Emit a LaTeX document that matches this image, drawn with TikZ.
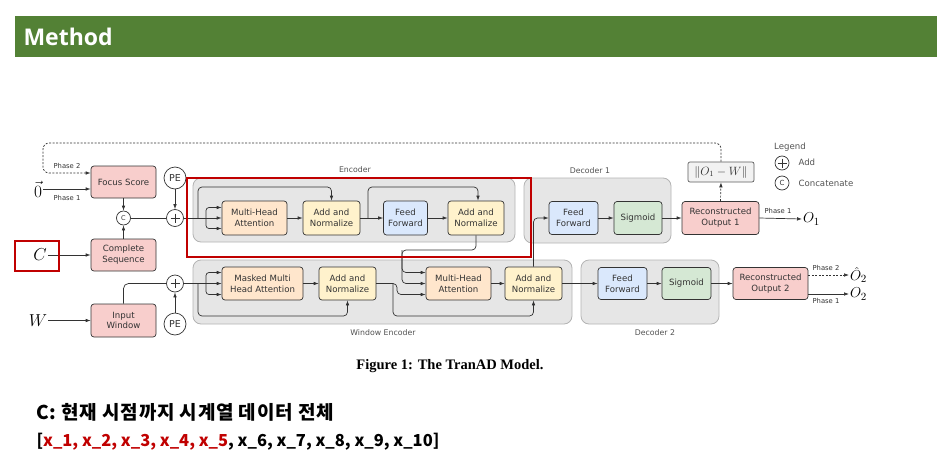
\documentclass[tikz,border=0pt]{standalone}
\usepackage{fontspec}
\usetikzlibrary{arrows.meta,calc}
\newfontfamily\djv{DejaVu Sans}
\newfontfamily\hdrf{Open Sans}
\newfontfamily\kr{Noto Sans CJK KR}
\newfontfamily\krs{Noto Sans CJK KR}[LetterSpace=4]
\newfontfamily\capf{Liberation Serif}
\definecolor{hdrgreen}{HTML}{538135}
\definecolor{hl}{HTML}{C00000}
\definecolor{grayfill}{HTML}{E6E6E6}
\definecolor{grayline}{HTML}{B3B3B3}
\definecolor{peach}{HTML}{FFE6CC}
\definecolor{cream}{HTML}{FFF2CC}
\definecolor{lblue}{HTML}{DAE8FC}
\definecolor{lgreen}{HTML}{D5E8D4}
\definecolor{lpink}{HTML}{F8CECC}
\definecolor{ink}{HTML}{333333}
\tikzset{
  blk/.style={draw=ink, line width=0.7pt, rounded corners=3pt, align=center,
    font=\djv\fontsize{8.6}{10.8}\selectfont, inner sep=1pt, text=ink},
  grp/.style={draw=grayline, fill=grayfill, line width=0.8pt, rounded corners=8pt},
  arr/.style={-{Latex[length=5pt,width=3.6pt]}, line width=0.7pt, draw=ink},
  ln/.style={line width=0.7pt, draw=ink},
  circ/.style={circle, draw=ink, fill=white, line width=0.7pt, inner sep=0pt},
  plusc/.style={circ, path picture={
      \draw[ink, line width=0.7pt] ($(path picture bounding box.center)+(-4.5,0)$) -- ++(9,0);
      \draw[ink, line width=0.7pt] ($(path picture bounding box.center)+(0,-4.5)$) -- ++(0,9);}},
  lbl/.style={font=\djv\fontsize{7.8}{9}\selectfont, text=ink!85},
  lgd/.style={font=\djv\fontsize{8.6}{10}\selectfont, text=ink!85},
  ph/.style={font=\djv\fontsize{6.8}{8}\selectfont, text=ink},
  mth/.style={font=\fontsize{17}{17}\selectfont, inner sep=1pt},
  omth/.style={font=\fontsize{15}{15}\selectfont, inner sep=1pt},
  dsh/.style={dash pattern=on 2pt off 1.5pt}
}
\begin{document}
\begin{tikzpicture}[x=1pt,y=-1pt]
\useasboundingbox (0,0) rectangle (947,466);
% header
\fill[hdrgreen] (15,16) rectangle (937,57);
\node[anchor=west, text=white, font=\hdrf\bfseries\fontsize{23}{26}\selectfont] (title) at (20,36.5) {Method};

% group boxes
\node[grp, minimum width=322pt, minimum height=64pt] (encg) at (354,210) {};
\node[lbl] (encl) at (355,170) {Encoder};
\node[grp, minimum width=379pt, minimum height=64pt] (wing) at (382.5,292) {};
\node[lbl] (winl) at (383,333) {Window Encoder};
\node[grp, minimum width=147pt, minimum height=65pt] (d1g) at (597.5,210.5) {};
\node[lbl] (d1l) at (590,171) {Decoder 1};
\node[grp, minimum width=138pt, minimum height=64pt] (d2g) at (650,292) {};
\node[lbl] (d2l) at (655,333) {Decoder 2};

% input blocks
\node[blk, fill=lpink, minimum width=65pt, minimum height=32pt] (focus) at (123.5,182) {Focus Score};
\node[blk, fill=lpink, minimum width=65pt, minimum height=32pt] (cseq) at (123.5,255) {Complete\\Sequence};
\node[blk, fill=lpink, minimum width=65pt, minimum height=33pt] (iwin) at (123.5,320.5) {Input\\Window};

% encoder
\node[blk, fill=peach, minimum width=65pt, minimum height=34pt] (mha) at (254.5,218) {Multi-Head\\Attention};
\node[blk, fill=cream, minimum width=57pt, minimum height=34pt] (an1) at (331.5,218) {Add and\\Normalize};
\node[blk, fill=lblue, minimum width=44pt, minimum height=34pt] (ff) at (405.5,218) {Feed\\Forward};
\node[blk, fill=cream, minimum width=56pt, minimum height=34pt] (an2) at (476,218) {Add and\\Normalize};

% window encoder
\node[blk, fill=peach, minimum width=81pt, minimum height=33pt] (mmha) at (262.5,283.5) {Masked Multi\\Head Attention};
\node[blk, fill=cream, minimum width=57pt, minimum height=33pt] (wan1) at (347.5,283.5) {Add and\\Normalize};
\node[blk, fill=peach, minimum width=65pt, minimum height=33pt] (mha2) at (458.5,283.5) {Multi-Head\\Attention};
\node[blk, fill=cream, minimum width=57pt, minimum height=33pt] (wan2) at (533.5,283.5) {Add and\\Normalize};

% decoders
\node[blk, fill=lblue, minimum width=49pt, minimum height=33pt] (ff1) at (573.5,218) {Feed\\Forward};
\node[blk, fill=lgreen, minimum width=48pt, minimum height=33pt] (sig1) at (638,218) {Sigmoid};
\node[blk, fill=lpink, minimum width=77pt, minimum height=33pt] (ro1) at (720.5,218) {Reconstructed\\Output 1};
\node[blk, fill=lblue, minimum width=49pt, minimum height=32pt] (ff2) at (622.5,283.5) {Feed\\Forward};
\node[blk, fill=lgreen, minimum width=49pt, minimum height=32pt] (sig2) at (686.5,283.5) {Sigmoid};
\node[blk, fill=lpink, minimum width=75pt, minimum height=32pt] (ro2) at (770.5,283.5) {Reconstructed\\Output 2};
\node[blk, fill=gray!10, draw=ink!80, rounded corners=2pt, minimum width=66pt, minimum height=20pt, font=\fontsize{12}{12}\selectfont] (norm) at (721,172) {$\|O_1 - W\|$};

% circles
\node[circ, minimum size=22pt, font=\djv\fontsize{9.5}{9.5}\selectfont, text=ink] (pe1) at (175,178) {PE};
\node[plusc, minimum size=17pt] (plus1) at (175,218) {};
\node[circ, minimum size=14pt, font=\djv\fontsize{6.5}{6.5}\selectfont, text=ink] (cc) at (123.5,218) {C};
\node[plusc, minimum size=17pt] (plus2) at (175,283.5) {};
\node[circ, minimum size=22pt, font=\djv\fontsize{9.5}{9.5}\selectfont, text=ink] (pe2) at (175,324) {PE};

% math labels
\node[mth] (zero) at (38,189) {$\vec{0}$};
\node[mth] (cl) at (40,255) {$C$};
\node[mth] (wl) at (38,320.5) {$W$};
\node[omth, anchor=west] (o1) at (802,219) {$O_1$};
\node[omth, anchor=west] (o2h) at (849,275) {$\hat{O}_2$};
\node[omth, anchor=west] (o2) at (849,294) {$O_2$};

% phase labels
\node[ph] (ph2a) at (67,166) {Phase 2};
\node[ph] (ph1a) at (67,198) {Phase 1};
\node[ph] (ph1b) at (778,211) {Phase 1};
\node[ph] (ph2b) at (826,268) {Phase 2};
\node[ph] (ph1c) at (826,301) {Phase 1};

% legend
\node[lgd] (legt) at (790,147) {Legend};
\node[plusc, minimum size=14pt] (lplus) at (782,163) {};
\node[lgd, anchor=west] (ladd) at (795,162) {Add};
\node[circ, minimum size=14pt, font=\djv\fontsize{7}{7}\selectfont, text=ink] (lcc) at (782,183) {C};
\node[lgd, anchor=west] (lcon) at (795,183) {Concatenate};

% left connectors
\draw[arr] (zero.east) -- (focus.west |- zero.east);
\coordinate (dtr) at (721,143);
\coordinate (dtl) at (43,143);
\coordinate (dbl) at (43,173);
\draw[arr, dsh, rounded corners=6pt] (norm.north) -- (dtr) -- (dtl) -- (dbl) -- (focus.west |- dbl);
\draw[arr, dsh] (ro1.north) -- (norm.south);
\draw[arr] (focus.south) -- (cc.north);
\draw[arr] (cseq.north) -- (cc.south);
\draw[ln] (cc.east) -- (plus1.west);
\draw[arr] (pe1.south) -- (plus1.north);
\draw[arr] (cl.east) -- (cseq.west);
\draw[arr] (wl.east) -- (iwin.west);
\draw[ln, rounded corners=5pt] (iwin.north) |- (plus2.west);
\draw[arr] (pe2.north) -- (plus2.south);

% encoder connectors
\coordinate (ein) at (198,218);
\coordinate (eb) at (206,218);
\coordinate (es1) at (198,187);
\draw[arr] (plus1.east) -- (mha.west);
\draw[arr, rounded corners=3pt] (eb) |- ($(mha.west)+(0,-10.5)$);
\draw[arr, rounded corners=3pt] (eb) |- ($(mha.west)+(0,10.5)$);
\draw[arr, rounded corners=4pt] (ein) -- (es1) -| (an1.north);
\draw[arr] (mha.east) -- (an1.west);
\draw[arr] (an1.east) -- (ff.west);
\coordinate (es2a) at (368,218);
\coordinate (es2b) at (368,187);
\draw[arr, rounded corners=4pt] (es2a) -- (es2b) -| ($(an2.north)+(2,0)$);
\draw[arr] (ff.east) -- (an2.west);
\coordinate (eo2) at (402,250);
\draw[arr, rounded corners=4pt] (an2.south) |- (eo2) |- ($(mha2.west)+(0,-11)$);
\draw[arr, rounded corners=4pt] (eo2) |- (mha2.west);

% window encoder connectors
\coordinate (win) at (198,283.5);
\coordinate (wb) at (206,283.5);
\coordinate (ws1) at (198,316);
\draw[arr] (plus2.east) -- (mmha.west);
\draw[arr, rounded corners=3pt] (wb) |- ($(mmha.west)+(0,-11)$);
\draw[arr, rounded corners=3pt] (wb) |- ($(mmha.west)+(0,11)$);
\draw[arr, rounded corners=4pt] (win) -- (ws1) -| (wan1.south);
\draw[arr] (mmha.east) -- (wan1.west);
\coordinate (wo) at (393,283.5);
\coordinate (ws2) at (393,316);
\coordinate (wq) at (397,283.5);
\draw[ln] (wan1.east) -- (wo);
\draw[arr, rounded corners=4pt] (wo) -- (ws2) -| (wan2.south);
\draw[arr, rounded corners=4pt] (wo) -- (wq) |- ($(mha2.west)+(0,11)$);
\draw[arr] (mha2.east) -- (wan2.west);
\draw[arr] (wan2.east) -- (ff2.west);
\draw[arr, rounded corners=4pt] (wan2.north) |- (ff1.west);

% decoder connectors
\draw[arr] (ff1.east) -- (sig1.west);
\draw[arr] (sig1.east) -- (ro1.west);
\draw[arr] (ro1.east) -- (o1.west);
\draw[arr] (ff2.east) -- (sig2.west);
\draw[arr] (sig2.east) -- (ro2.west);
\draw[arr, dsh] (ro2.east |- o2h.west) -- (o2h.west);
\draw[arr] (ro2.east |- o2.west) -- (o2.west);

% highlight boxes
\draw[hl, line width=2.6pt] (187,178) rectangle (531,257);
\draw[hl, line width=2.4pt] (15,241) rectangle (59,271);

% caption and notes
\node[font=\capf\bfseries\fontsize{14.5}{16}\selectfont] (cap) at (450,366) {Figure 1: The TranAD Model.};
\node[anchor=west, font=\krs\bfseries\fontsize{19}{22}\selectfont] (kline) at (33,412) {C: 현재 시점까지 시계열 데이터 전체};
\node[anchor=west, font=\kr\bfseries\fontsize{16.5}{20}\selectfont] (xline) at (33,442) {[\textcolor{hl}{x\_1, x\_2, x\_3, x\_4, x\_5}, x\_6, x\_7, x\_8, x\_9, x\_10]};
\end{tikzpicture}
\end{document}
